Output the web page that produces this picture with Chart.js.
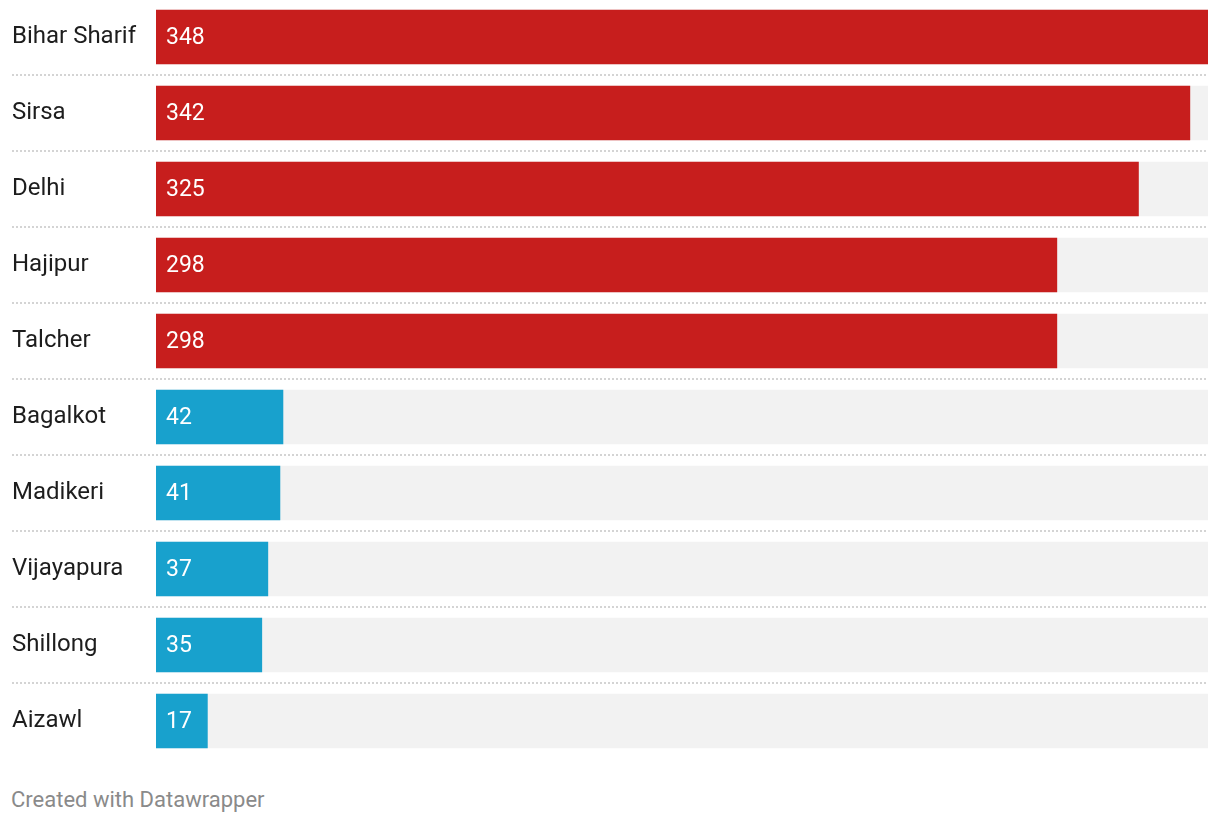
<!DOCTYPE html>
<html>
<head>
<meta charset="utf-8">
<script src="https://cdn.jsdelivr.net/npm/chart.js@4"></script>
<style>
  body { margin: 0; background: #fff; font-family: Roboto, sans-serif; }
  #wrap { position: relative; width: 1220px; height: 824px; overflow: hidden; }
  #box { position: absolute; left: 0; top: -1px; width: 1220px; height: 760px; }
  #foot { position: absolute; left: 11px; top: 787px; font-size: 22px; color: #8a8a8a; }
</style>
</head>
<body>
<div id="wrap">
  <div id="box"><canvas id="barChart"></canvas></div>
  <div id="foot">Created with Datawrapper</div>
</div>
<script>
const cities = ['Bihar Sharif', 'Sirsa', 'Delhi', 'Hajipur', 'Talcher', 'Bagalkot', 'Madikeri', 'Vijayapura', 'Shillong', 'Aizawl']
const values = [348, 342, 325, 298, 298, 42, 41, 37, 35, 17]
const groups = ['high', 'high', 'high', 'high', 'high', 'low', 'low', 'low', 'low', 'low']
const maxValue = 348
const backdrop = cities.map(() => maxValue)

const colors = { high: '#c71e1d', low: '#18a1cd' }

// white numbers at the start of each bar
const valueLabels = {
  id: 'valueLabels',
  afterDatasetsDraw(chart) {
    const ctx = chart.ctx
    const meta = chart.getDatasetMeta(0)
    ctx.save()
    ctx.font = '23px Roboto'
    ctx.fillStyle = '#ffffff'
    ctx.textAlign = 'left'
    ctx.textBaseline = 'middle'
    meta.data.forEach((bar, i) => {
      ctx.fillText(String(values[i]), bar.base + 10, bar.y + 1)
    })
    ctx.restore()
  }
}

const lineColor = c => (c.index > 0 ? '#d4d4d4' : 'rgba(0,0,0,0)')

const ctx = document.getElementById('barChart').getContext('2d')

const myChart = new Chart(ctx, {
  type: 'bar',
  data: {
    labels: cities,
    datasets: [{
      data: values,
      backgroundColor: groups.map(g => colors[g]),
      barThickness: 54,
      grouped: false,
      order: 1
    }, {
      data: backdrop,
      backgroundColor: '#f2f2f2',
      barThickness: 54,
      grouped: false,
      order: 2
    }]
  },
  options: {
    indexAxis: 'y',
    responsive: true,
    maintainAspectRatio: false,
    animation: false,
    layout: { padding: { left: 12, right: 12, top: 0, bottom: 0 } },
    plugins: {
      legend: { display: false },
      tooltip: { enabled: false }
    },
    scales: {
      x: { display: false, min: 0, max: maxValue },
      y: {
        border: { display: false, dash: [2, 2] },
        grid: {
          offset: true,
          color: lineColor,
          lineWidth: 2,
          tickLength: 144,
          tickColor: lineColor,
          tickWidth: 2,
          tickBorderDash: [2, 2]
        },
        ticks: {
          crossAlign: 'far',
          color: '#1d1d1d',
          font: { family: 'Roboto', size: 24 }
        },
        afterFit(scale) {
          scale.width = 144
          scale.paddingTop = 0
          scale.paddingBottom = 0
        }
      }
    }
  },
  plugins: [valueLabels]
})
</script>
</body>
</html>
